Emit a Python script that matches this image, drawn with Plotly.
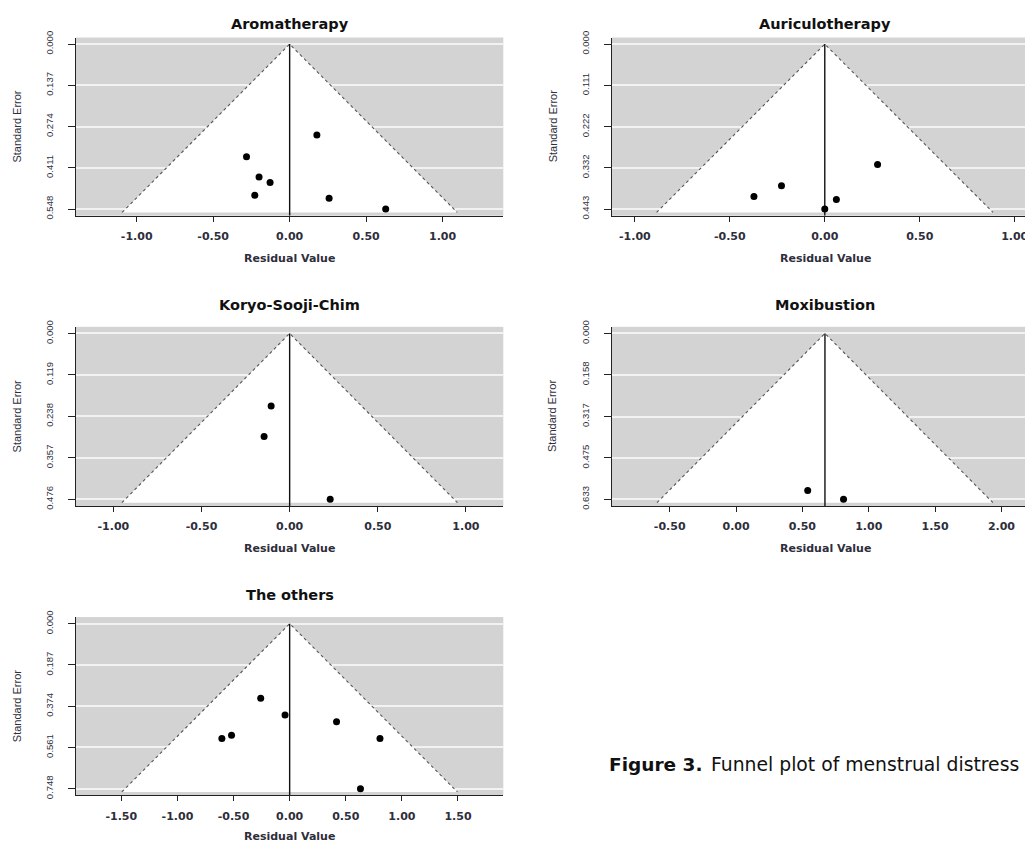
import plotly.graph_objects as go

# ---------------- data ----------------
titles = ["Aromatherapy", "Auriculotherapy", "Koryo-Sooji-Chim", "Moxibustion", "The others"]

aroma_resid = [0.178, -0.282, -0.200, -0.128, -0.228, 0.258, 0.628]
aroma_se = [0.302, 0.374, 0.441, 0.460, 0.502, 0.512, 0.548]

auri_resid = [0.278, -0.228, -0.373, 0.061, 0.000]
auri_se = [0.323, 0.380, 0.409, 0.417, 0.443]

koryo_resid = [-0.105, -0.145, 0.230]
koryo_se = [0.208, 0.296, 0.476]

moxi_resid = [0.540, 0.810]
moxi_se = [0.599, 0.633]

others_resid = [-0.258, -0.041, 0.418, -0.518, -0.604, 0.805, 0.631]
others_se = [0.338, 0.414, 0.445, 0.506, 0.520, 0.520, 0.748]

centers = [0.0, 0.0, 0.0, 0.67, 0.0]

aroma_yticks = [0.000, 0.137, 0.274, 0.411, 0.548]
auri_yticks = [0.000, 0.111, 0.222, 0.332, 0.443]
koryo_yticks = [0.000, 0.119, 0.238, 0.357, 0.476]
moxi_yticks = [0.000, 0.158, 0.317, 0.475, 0.633]
others_yticks = [0.000, 0.187, 0.374, 0.561, 0.748]

aroma_xticks = [-1.0, -0.5, 0.0, 0.5, 1.0]
auri_xticks = [-1.0, -0.5, 0.0, 0.5, 1.0]
koryo_xticks = [-1.0, -0.5, 0.0, 0.5, 1.0]
moxi_xticks = [-0.5, 0.0, 0.5, 1.0, 1.5, 2.0]
others_xticks = [-1.5, -1.0, -0.5, 0.0, 0.5, 1.0, 1.5]

caption_bold = "Figure 3."
caption_text = "Funnel plot of menstrual distress"

# ---------------- layout ----------------
W, H = 1033, 844
# measured mapping between figure pixels and the photographed picture
SX, BX = 1.0, 8.0
SY, BY = 0.986, 15.5


def fx(xi):            # picture x pixel -> paper
    return ((xi - BX) / SX) / W


def fy(yi):            # picture y pixel -> paper
    return 1 - ((yi - BY) / SY) / H


# left, right, top, bottom (picture pixels) and x-range of each panel
panels_px = [
    (76, 503.3, 38, 216, (-1.397, 1.397)),
    (611.7, 1039, 38, 216, (-1.122, 1.128)),
    (76, 503.3, 327, 506, (-1.212, 1.212)),
    (611.7, 1039, 327, 506, (-0.937, 2.283)),
    (76, 503.3, 617, 795, (-1.904, 1.904)),
]

resids = [aroma_resid, auri_resid, koryo_resid, moxi_resid, others_resid]
ses = [aroma_se, auri_se, koryo_se, moxi_se, others_se]
yticks = [aroma_yticks, auri_yticks, koryo_yticks, moxi_yticks, others_yticks]
xticks = [aroma_xticks, auri_xticks, koryo_xticks, moxi_xticks, others_xticks]

TXT = "#2e2e3c"
AX = "#222222"
wide = "DejaVu Sans, Verdana, sans-serif"
sans = "Liberation Sans, Arial, sans-serif"

fig = go.Figure()
annotations = []
layout_axes = {}

for i in range(5):
    left, right, top, bottom, xr = panels_px[i]
    n = "" if i == 0 else str(i + 1)
    xa, ya = "x" + n, "y" + n
    M = yticks[i][-1]
    c = centers[i]
    yr_bottom = 1.04 * M
    yr_top = -0.04 * M
    base = 1.02 * M

    # white funnel region
    fig.add_trace(go.Scatter(
        x=[c - 1.96 * base, c, c + 1.96 * base, c - 1.96 * base],
        y=[base, 0, base, base], mode="lines", fill="toself",
        fillcolor="white", line=dict(width=0), hoverinfo="skip",
        xaxis=xa, yaxis=ya, showlegend=False))
    # dotted funnel edges
    fig.add_trace(go.Scatter(
        x=[c - 1.96 * base, c, c + 1.96 * base], y=[base, 0, base],
        mode="lines", line=dict(color="#555555", width=1.1, dash="dot"),
        hoverinfo="skip", xaxis=xa, yaxis=ya, showlegend=False))
    # vertical reference line
    fig.add_trace(go.Scatter(
        x=[c, c], y=[0, yr_bottom], mode="lines",
        line=dict(color="#111111", width=1.4), hoverinfo="skip",
        xaxis=xa, yaxis=ya, showlegend=False))
    # studies
    fig.add_trace(go.Scatter(
        x=resids[i], y=ses[i], mode="markers",
        marker=dict(color="black", size=7, symbol="circle"),
        xaxis=xa, yaxis=ya, showlegend=False))

    layout_axes["xaxis" + n] = dict(
        domain=[fx(left), min(fx(right), 1.0)], range=list(xr), anchor=ya,
        showgrid=False, zeroline=False, showline=True, linecolor=AX,
        linewidth=1.3, ticks="outside", ticklen=5, tickwidth=1.1,
        tickcolor=AX, tickvals=xticks[i],
        ticktext=["<b>%.2f</b>" % v for v in xticks[i]],
        tickfont=dict(family=wide, size=11, color=TXT),
        ticklabelstandoff=5, fixedrange=True)
    layout_axes["yaxis" + n] = dict(
        domain=[fy(bottom), fy(top)], range=[yr_bottom, yr_top],
        anchor=xa, showgrid=True, gridcolor="#f2f2f2", gridwidth=1.8,
        zeroline=False, showline=True, linecolor=AX, linewidth=1.3,
        ticks="outside", ticklen=7, tickwidth=1.1, tickcolor=AX,
        tickvals=yticks[i], ticktext=["%.3f" % v for v in yticks[i]],
        tickangle=-90, tickfont=dict(family=sans, size=9.5, color=TXT),
        ticklabelstandoff=11, fixedrange=True)

    cx = fx(left + 213.65)
    ty = fy(top - 22)
    if ty > 1 - 10 / H:   # too close to the top edge: pin to the top
        title_pos = dict(y=1.0, yanchor="top")
    else:
        title_pos = dict(y=ty, yanchor="middle")
    annotations.append(dict(
        text="<b>" + titles[i] + "</b>", x=cx, xref="paper", yref="paper",
        showarrow=False, xanchor="center", borderpad=0,
        font=dict(family=wide, size=14.5, color="#111111"), **title_pos))
    rv_y = min(bottom + 42.5, 836.5)
    annotations.append(dict(
        text="<b>Residual Value</b>", x=cx, y=fy(rv_y),
        xref="paper", yref="paper", showarrow=False, xanchor="center",
        yanchor="middle", borderpad=0, font=dict(family=wide, size=11, color=TXT)))
    annotations.append(dict(
        text="Standard Error", x=fx(left - 59), y=fy((top + bottom) / 2),
        xref="paper", yref="paper", showarrow=False, xanchor="center",
        yanchor="middle", textangle=-90,
        font=dict(family=sans, size=11, color=TXT)))

annotations.append(dict(
    text="<b>" + caption_bold + "</b>", x=fx(607), y=fy(764),
    xref="paper", yref="paper", showarrow=False, xanchor="left",
    yanchor="middle", font=dict(family=wide, size=18.5, color="#111111")))
annotations.append(dict(
    text=caption_text, x=fx(709), y=fy(764),
    xref="paper", yref="paper", showarrow=False, xanchor="left",
    yanchor="middle", font=dict(family=wide, size=18.8, color="#111111")))

fig.update_layout(
    width=W, height=H, margin=dict(l=0, r=0, t=0, b=0),
    paper_bgcolor="white", plot_bgcolor="#d3d3d3",
    annotations=annotations, showlegend=False, **layout_axes)

fig.write_html("out.html")
